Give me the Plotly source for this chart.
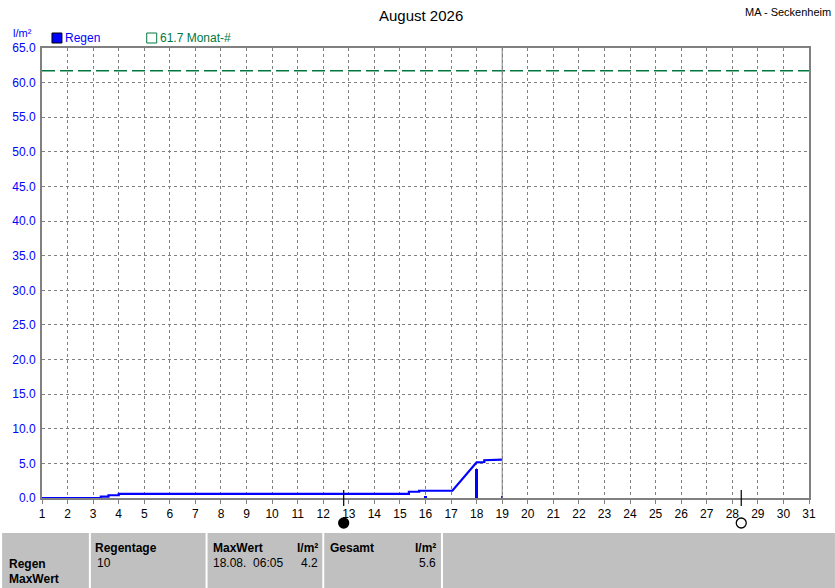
import plotly.graph_objects as go

# ---- data ----
line_days = [1, 3.0, 3.3, 3.3, 3.6, 3.6, 4.0, 4.0, 15.35, 15.35, 15.75, 15.75, 17.05, 18.0, 18.3, 18.3, 19.0]
line_vals = [0, 0.0, 0.0, 0.2, 0.2, 0.4, 0.4, 0.6, 0.6, 0.9, 0.9, 1.05, 1.05, 5.15, 5.2, 5.45, 5.55]
bar_days = [16, 18, 19]
bar_vals = [0.3, 4.2, 0.3]
month_avg = 61.7
now_day = 19
moon_full_day = 12.8
moon_new_day = 28.35
x_ticks = list(range(1, 32))
y_ticks = [i * 5 for i in range(14)]

BLUE = "#0000ff"
GREEN = "#007840"
GRID = "#808080"
FONT = "Liberation Sans"

fig = go.Figure()

fig.add_trace(go.Scatter(x=[1, 31], y=[month_avg, month_avg], mode="lines",
                         line=dict(color=GREEN, width=1.5, dash="13px,5px"),
                         showlegend=False, hoverinfo="skip"))
fig.add_trace(go.Bar(x=bar_days, y=bar_vals, width=0.09, marker_color=BLUE,
                     marker_line_width=0, showlegend=False))
fig.add_trace(go.Scatter(x=line_days, y=line_vals, mode="lines",
                         line=dict(color=BLUE, width=2.2), showlegend=False))


def px2x(px):
    return (px - 40) / 769


def py2y(py):
    return (498 - py) / 450


shapes = []
# current time line
shapes.append(dict(type="line", xref="x", yref="y", x0=now_day, x1=now_day, y0=0, y1=65,
                   line=dict(color="#808080", width=1)))
# moon phase markers
for d, filled in [(moon_full_day, True), (moon_new_day, False)]:
    shapes.append(dict(type="line", xref="x", yref="paper", x0=d, x1=d,
                       y0=py2y(506), y1=py2y(490), line=dict(color="black", width=1.2)))
    r = 5 / 25.63
    shapes.append(dict(type="circle", xref="x", yref="paper", x0=d - r, x1=d + r,
                       y0=py2y(528), y1=py2y(518),
                       fillcolor="black" if filled else "rgba(0,0,0,0)",
                       line=dict(color="black", width=1.3)))
# bottom table background
shapes.append(dict(type="rect", xref="paper", yref="paper",
                   x0=px2x(0), x1=px2x(835), y0=py2y(588), y1=py2y(533),
                   fillcolor="#c0c0c0", line=dict(width=0), layer="below"))
for px in [88, 205, 322, 441]:
    shapes.append(dict(type="line", xref="paper", yref="paper", x0=px2x(px), x1=px2x(px),
                       y0=py2y(588), y1=py2y(533), line=dict(color="white", width=2)))
# legend swatches
shapes.append(dict(type="rect", xref="paper", yref="paper", x0=px2x(50), x1=px2x(60),
                   y0=py2y(43), y1=py2y(33), fillcolor=BLUE, line=dict(color="black", width=1)))
shapes.append(dict(type="rect", xref="paper", yref="paper", x0=px2x(145), x1=px2x(155),
                   y0=py2y(43), y1=py2y(33), fillcolor="rgba(0,0,0,0)",
                   line=dict(color=GREEN, width=1)))

ann = []


def text(px, py, s, color="black", size=12, anchor="left", bold=False):
    off = {"left": -3, "right": 3, "center": 0}[anchor]
    ann.append(dict(xref="paper", yref="paper", x=px2x(px + off), y=py2y(py),
                    text=("<b>%s</b>" % s) if bold else s,
                    showarrow=False, xanchor=anchor, yanchor="middle",
                    font=dict(family=FONT, size=size, color=color)))


text(420, 15, "August 2026", size=15, anchor="center")
text(830, 12, "MA - Seckenheim", size=11, anchor="right")
text(12, 33, "l/m²", color=BLUE, size=11)
text(64, 38, "Regen", color=BLUE, size=12)
text(159, 38, "61.7 Monat-#", color=GREEN, size=12)

text(8, 564, "Regen", size=12, bold=True)
text(8, 579, "MaxWert", size=12, bold=True)
text(94, 548, "Regentage", size=12, bold=True)
text(96, 563, "10", size=12)
text(212, 548, "MaxWert", size=12, bold=True)
text(316, 548, "l/m²", size=12, bold=True, anchor="right")
text(212, 563, "18.08.&nbsp;&nbsp;06:05", size=12)
text(316, 563, "4.2", size=12, anchor="right")
text(330, 548, "Gesamt", size=12, bold=True)
text(434, 548, "l/m²", size=12, bold=True, anchor="right")
text(434, 563, "5.6", size=12, anchor="right")

fig.update_layout(
    width=835, height=588,
    margin=dict(l=40, r=26, t=48, b=90, pad=0),
    paper_bgcolor="white", plot_bgcolor="white",
    shapes=shapes, annotations=ann,
    bargap=0, showlegend=False,
    font=dict(family=FONT, size=12, color="black"),
    xaxis=dict(range=[1, 31], tickvals=x_ticks, ticktext=[str(t) for t in x_ticks],
               showgrid=True, gridcolor=GRID, griddash="3px,3px", gridwidth=1,
               showline=True, linecolor=GRID, linewidth=2, mirror=True,
               ticks="outside", ticklen=4, tickcolor=GRID, zeroline=False,
               tickfont=dict(family=FONT, size=12, color="black"), fixedrange=True),
    yaxis=dict(range=[0, 65], tickvals=y_ticks, ticktext=["%.1f" % t for t in y_ticks],
               showgrid=True, gridcolor=GRID, griddash="3px,3px", gridwidth=1,
               showline=True, linecolor=GRID, linewidth=2, mirror=True,
               ticks="", zeroline=False, ticklabelstandoff=2,
               tickfont=dict(family=FONT, size=12, color=BLUE), fixedrange=True),
)

fig.write_html("out.html", config={"displayModeBar": False},
               post_script="document.body.style.margin='0';document.body.style.overflow='hidden';")
